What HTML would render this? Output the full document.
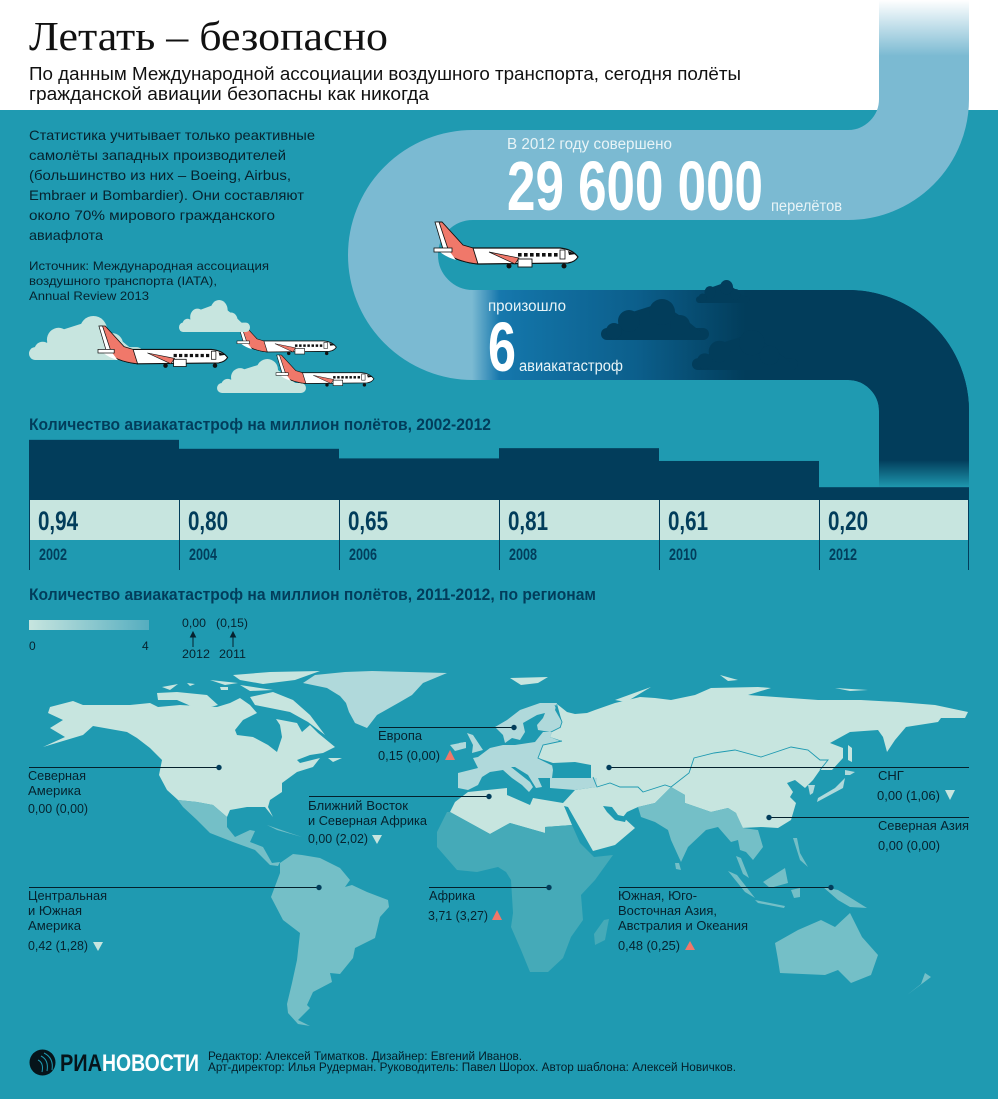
<!DOCTYPE html>
<html lang="ru">
<head>
<meta charset="utf-8">
<title>Летать – безопасно</title>
<style>
html,body{margin:0;padding:0;background:#1f9ab1}
svg{display:block}
text{font-family:"Liberation Sans","Noto Sans CJK SC",sans-serif}
.a{font-size:13px;fill:#06222e}
.l{font-size:12px;fill:#06222e}
.p{font-size:14px;fill:#06222e}
.s{font-size:12px;fill:#06222e}
.w{font-size:15.5px;fill:#e8f4f7}
.h{font-size:16.5px;font-weight:bold;fill:#023d5b}
.f{font-size:12px;fill:#031d28}
</style>
</head>
<body>
<svg id="page" xmlns="http://www.w3.org/2000/svg" width="998" height="1100" viewBox="0 0 998 1100">
<defs>
<linearGradient id="topFade" gradientUnits="userSpaceOnUse" x1="0" y1="0" x2="0" y2="56"><stop offset="0" stop-color="#fff"/><stop offset="1" stop-color="#7bbad2"/></linearGradient>
<linearGradient id="midBand" gradientUnits="userSpaceOnUse" x1="472" y1="0" x2="745" y2="0"><stop offset="0" stop-color="#7bbad2"/><stop offset=".1" stop-color="#1778ad"/><stop offset=".2" stop-color="#1272a5"/><stop offset=".6" stop-color="#0c5f8c"/><stop offset="1" stop-color="#023d5b"/></linearGradient>
<linearGradient id="botFade" gradientUnits="userSpaceOnUse" x1="0" y1="460" x2="0" y2="488"><stop offset="0" stop-color="#023d5b"/><stop offset="1" stop-color="#1f9ab1"/></linearGradient>
<linearGradient id="scale" x1="0" y1="0" x2="1" y2="0"><stop offset="0" stop-color="#c7e5df"/><stop offset="1" stop-color="#55adbf"/></linearGradient>
<symbol id="cloud" viewBox="0 0 108 41" preserveAspectRatio="none">
<rect x="0" y="29" width="108" height="12" rx="6"/>
<path d="M10,32 L28,14 L60,4 L84,20 L100,33 L100,41 L8,41 Z"/>
<circle cx="28" cy="22" r="11"/><circle cx="61" cy="13" r="13"/><circle cx="79" cy="26" r="10"/><circle cx="13" cy="32" r="8"/>
</symbol>
<g id="plane">
<path d="M39,26 L126,26 Q138,27 144,35 Q141,40 134,41 L44,42 Q24,40 6,29 Z" fill="#fff" stroke="#111" stroke-width="1.2"/>
<path d="M3,0 L8,0 L29,23 L39,26 L44,42 Q24,40 12,31 Z" fill="#f0786a" stroke="#111" stroke-width=".9"/>
<path d="M1,0 L5,0 L14,27 L9,27 Z" fill="#fff" stroke="#111" stroke-width=".8"/>
<path d="M6,30 L16,30 L22,38 Q12,35 6,30 Z" fill="#fff"/>
<rect x="0" y="26" width="18" height="4" fill="#fff" stroke="#111" stroke-width=".8"/>
<path d="M55,30 L85,36 L81,42 Z" fill="#f0786a" stroke="#111" stroke-width=".7"/>
<rect x="84" y="37" width="14" height="8" fill="#fff" stroke="#111" stroke-width=".9"/>
<g fill="#111"><rect x="84" y="31" width="3.6" height="3.6"/><rect x="90" y="31" width="3.6" height="3.6"/><rect x="96" y="31" width="3.6" height="3.6"/><rect x="102" y="31" width="3.6" height="3.6"/><rect x="108" y="31" width="3.6" height="3.6"/><rect x="114" y="31" width="3.6" height="3.6"/><rect x="120" y="31" width="3.6" height="3.6"/></g>
<rect x="126" y="28" width="5" height="9" fill="#fff" stroke="#111" stroke-width=".8"/>
<path d="M134,29 L142,32 L135,33 Z" fill="#111"/>
<circle cx="75" cy="44" r="2.5" fill="#111"/><circle cx="130" cy="44" r="2.5" fill="#111"/>
</g>
</defs>

<rect x="0" y="0" width="998" height="110" fill="#fff"/>
<rect x="0" y="110" width="998" height="989" fill="#1f9ab1"/>
<rect x="0" y="1099" width="998" height="1" fill="#fff"/>

<text x="29" y="50" style="font-family:'Liberation Serif','Noto Serif CJK SC',serif" font-size="41" fill="#111" textLength="359" lengthAdjust="spacingAndGlyphs">Летать – безопасно</text>
<text x="29" y="80" font-size="18.5" fill="#111" textLength="712" lengthAdjust="spacingAndGlyphs">По данным Международной ассоциации воздушного транспорта, сегодня полёты</text>
<text x="29" y="100" font-size="18.5" fill="#111" textLength="400" lengthAdjust="spacingAndGlyphs">гражданской авиации безопасны как никогда</text>

<g>
<path d="M924,0 V99 A76,76 0 0 1 848,175 H473 A80,80 0 0 0 473,335 H480" fill="none" stroke="#7bbad2" stroke-width="90"/>
<rect x="879" y="0" width="90" height="57" fill="url(#topFade)"/>
<path d="M472,335 H848 A76,76 0 0 1 924,411 V462" fill="none" stroke="url(#midBand)" stroke-width="90"/>
<path d="M745,335 H848 A76,76 0 0 1 924,411 V462" fill="none" stroke="#023d5b" stroke-width="90"/>
<rect x="879" y="460" width="90" height="28" fill="url(#botFade)"/>
</g>
<g fill="#023d5b">
<use href="#cloud" x="601" y="299" width="108" height="41"/>
<use href="#cloud" x="696" y="280" width="54" height="23"/>
<use href="#cloud" x="692" y="330" width="106" height="40"/>
</g>
<use href="#plane" x="434" y="222"/>

<text x="507" y="149" class="w" textLength="165" lengthAdjust="spacingAndGlyphs">В 2012 году совершено</text>
<text x="507" y="210" font-size="70" font-weight="bold" fill="#fff" textLength="256" lengthAdjust="spacingAndGlyphs">29 600 000</text>
<text x="771" y="211" class="w" textLength="71" lengthAdjust="spacingAndGlyphs">перелётов</text>
<text x="488" y="311" class="w" textLength="78" lengthAdjust="spacingAndGlyphs">произошло</text>
<text x="488" y="371" font-size="70" font-weight="bold" fill="#fff" textLength="28" lengthAdjust="spacingAndGlyphs">6</text>
<text x="519" y="371" class="w" textLength="104" lengthAdjust="spacingAndGlyphs">авиакатастроф</text>

<g>
<text x="29" y="140" class="p" textLength="286" lengthAdjust="spacingAndGlyphs">Статистика учитывает только реактивные</text>
<text x="29" y="160" class="p" textLength="257" lengthAdjust="spacingAndGlyphs">самолёты западных производителей</text>
<text x="29" y="180" class="p" textLength="262" lengthAdjust="spacingAndGlyphs">(большинство из них – Boeing, Airbus,</text>
<text x="29" y="200" class="p" textLength="275" lengthAdjust="spacingAndGlyphs">Embraer и Bombardier). Они составляют</text>
<text x="29" y="220" class="p" textLength="246" lengthAdjust="spacingAndGlyphs">около 70% мирового гражданского</text>
<text x="29" y="240" class="p" textLength="74" lengthAdjust="spacingAndGlyphs">авиафлота</text>
<text x="29" y="270" class="s" textLength="240" lengthAdjust="spacingAndGlyphs">Источник: Международная ассоциация</text>
<text x="29" y="285" class="s" textLength="188" lengthAdjust="spacingAndGlyphs">воздушного транспорта (IATA),</text>
<text x="29" y="300" class="s" textLength="120" lengthAdjust="spacingAndGlyphs">Annual Review 2013</text>
</g>

<g fill="#c7e5df">
<use href="#cloud" x="29" y="316" width="114" height="44"/>
<use href="#cloud" x="217" y="359" width="89" height="34"/>
</g>
<use href="#plane" transform="translate(237,323) scale(.69)"/>
<use href="#cloud" x="179" y="300" width="71" height="32" fill="#c7e5df"/>
<use href="#plane" transform="translate(98,326) scale(.9)"/>
<use href="#plane" transform="translate(276,355) scale(.68)"/>

<text x="29" y="430" class="h" textLength="462" lengthAdjust="spacingAndGlyphs">Количество авиакатастроф на миллион полётов, 2002-2012</text>
<g id="barChart"></g>
<text x="29" y="600" class="h" textLength="567" lengthAdjust="spacingAndGlyphs">Количество авиакатастроф на миллион полётов, 2011-2012, по регионам</text>

<g>
<rect x="29" y="620" width="120" height="10" fill="url(#scale)"/>
<text x="29" y="650" class="l">0</text>
<text x="142" y="650" class="l">4</text>
<text x="182" y="627" class="l" textLength="24" lengthAdjust="spacingAndGlyphs">0,00</text>
<text x="216" y="627" class="l" textLength="32" lengthAdjust="spacingAndGlyphs">(0,15)</text>
<path d="M193,647 V635 M190.5,637 L193,632 L195.5,637 Z M233,647 V635 M230.5,637 L233,632 L235.5,637 Z" stroke="#06222e" fill="#06222e"/>
<text x="182" y="658" class="l" textLength="28" lengthAdjust="spacingAndGlyphs">2012</text>
<text x="219" y="658" class="l" textLength="27" lengthAdjust="spacingAndGlyphs">2011</text>
</g>

<g>
<g fill="#b0d9db">
<path d="M303,683 L315,675 L345,672 L372,671 L447,673 L423,683 L412,695 L400,702 L377,715 L367,728 L355,723 L349,712 L346,703 L340,696 L327,688 Z"/>
<path d="M450,745 L465,742 L466,748 L455,751 Z"/>
</g>
<g fill="#c7e5df">
<path d="M50,707 L73,701 L83,705 L130,705 L150,703 L158,707 L180,705 L217,707 L230,703 L240,698 L250,705 L257,713 L243,720 L235,730 L237,735 L253,737 L268,745 L277,752 L282,737 L280,725 L276,719 L297,723 L302,732 L310,725 L318,733 L335,747 L323,753 L310,755 L297,760 L300,763 L320,758 L313,767 L297,772 L282,783 L282,792 L270,800 L268,807 L273,817 L265,807 L247,807 L230,810 L227,817 L213,805 L197,802 L178,800 L167,790 L159,775 L162,760 L150,748 L137,738 L127,732 L93,726 L83,735 L43,747 L65,737 L50,728 L63,720 L48,713 Z"/>
<path d="M250,697 L273,692 L293,700 L310,715 L325,735 L308,722 L290,712 L270,708 L255,705 Z"/>
<path d="M157,693 L177,692 L207,695 L218,705 L200,710 L177,700 L158,700 Z"/>
<path d="M162,687 L178,684 L170,690 Z"/>
<path d="M187,683 L195,684 L190,686 Z"/>
<path d="M220,687 L228,687 L228,690 L221,690 Z"/>
<path d="M210,680 L238,683 L225,685 Z"/>
<path d="M240,685 L273,690 L250,691 Z"/>
<path d="M233,675 L270,672 L320,671 L295,680 L263,684 L240,680 Z"/>
<path d="M328,758 L342,758 L333,762 Z"/>
</g>
<g fill="#74bfc7">
<path d="M177,799 L178,800 L197,802 L213,805 L227,817 L227,827 L235,837 L250,830 L255,831 L250,842 L263,847 L272,863 L280,862 L278,866 L270,865 L255,850 L233,842 L210,833 L197,820 L183,807 Z"/>
<path d="M280,863 L293,854 L302,855 L320,858 L340,868 L350,880 L345,887 L352,885 L367,892 L388,900 L389,907 L380,917 L375,938 L355,948 L353,958 L340,974 L330,973 L332,982 L313,992 L307,1005 L310,1008 L298,1020 L310,1026 L298,1024 L288,1013 L287,1004 L292,983 L297,960 L300,933 L283,920 L271,897 L280,873 Z"/>
<path d="M267,825 L290,833 L302,837 L277,830 Z"/>
</g>
<g fill="#c7e5df">
<path d="M557,704 L567,712 L575,714 L587,713 L595,710 L615,703 L640,697 L655,698 L671,700 L695,695 L711,688 L758,687 L771,688 L748,695 L818,700 L861,700 L898,702 L935,705 L968,712 L965,718 L941,718 L938,722 L906,727 L895,740 L887,752 L883,737 L878,730 L850,732 L830,743 L843,748 L843,758 L832,770 L820,770 L813,780 L805,788 L795,780 L787,783 L793,792 L790,797 L796,803 L791,820 L778,828 L761,827 L741,828 L736,813 L728,808 L711,812 L685,803 L685,795 L671,787 L655,803 L638,807 L627,812 L623,817 L635,828 L615,845 L593,851 L568,807 L564,806 L572,825 L545,827 L545,833 L510,823 L490,834 L450,812 L455,802 L468,792 L507,788 L507,795 L530,805 L533,798 L563,803 L575,790 L596,787 L591,778 L591,765 L575,762 L553,763 L538,758 L543,745 L562,741 L550,737 L552,732 L560,728 L562,722 Z"/>
<path d="M615,700 L651,687 L626,702 Z"/>
<path d="M510,678 L548,677 L538,683 L521,685 Z"/>
<path d="M720,675 L738,680 L728,681 Z"/>
<path d="M835,688 L868,690 L850,691 Z"/>
<path d="M848,745 L852,748 L852,762 L848,760 Z"/>
</g>
<g fill="#b0d9db">
<path d="M557,703 L540,703 L520,710 L507,720 L495,727 L503,735 L505,743 L512,738 L520,740 L525,732 L523,723 L537,715 L545,713 L543,718 L537,725 L538,730 L550,732 L560,727 L562,722 L555,710 Z"/>
<path d="M467,733 L473,735 L483,750 L472,753 L473,745 Z"/>
<path d="M459,743 L466,742 L466,748 L459,749 Z"/>
<path d="M478,757 L490,748 L503,745 L515,745 L535,742 L543,732 L552,732 L550,737 L560,741 L543,745 L538,758 L552,765 L553,770 L552,778 L538,778 L542,787 L536,788 L528,775 L515,767 L511,767 L530,782 L533,787 L529,792 L522,785 L512,778 L503,770 L490,772 L482,777 L478,785 L468,790 L458,788 L458,773 L478,768 L473,758 Z"/>
<path d="M550,778 L597,778 L596,787 L575,790 L550,788 Z"/>
</g>
<g fill="#45aab8">
<path d="M447,812 L450,812 L490,834 L510,823 L545,833 L545,827 L572,825 L580,843 L594,857 L613,855 L595,880 L581,895 L583,920 L571,937 L563,958 L548,972 L530,972 L521,950 L511,927 L513,913 L511,880 L506,872 L498,867 L477,872 L457,870 L437,847 L437,832 Z"/>
<path d="M604,920 L609,919 L605,940 L595,945 L594,934 Z"/>
</g>
<g fill="#74bfc7">
<path d="M638,807 L655,803 L671,787 L685,795 L685,803 L711,812 L728,808 L736,813 L743,828 L758,830 L763,847 L753,860 L746,852 L740,850 L738,840 L731,842 L718,827 L706,830 L688,847 L681,862 L671,840 L668,830 L655,822 L641,817 Z"/>
<path d="M736,856 L741,858 L749,878 L743,874 Z"/>
<path d="M728,871 L737,875 L755,898 L745,892 Z"/>
<path d="M763,882 L785,868 L788,883 L770,888 Z"/>
<path d="M755,900 L785,906 L784,908 L758,903 Z"/>
<path d="M791,890 L800,888 L800,897 L794,898 Z"/>
<path d="M823,887 L838,890 L867,908 L850,907 L838,900 Z"/>
<path d="M793,838 L797,838 L800,853 L808,867 L800,860 Z"/>
<path d="M675,863 L679,863 L681,870 L676,869 Z"/>
<path d="M775,943 L798,930 L821,920 L835,927 L850,913 L862,937 L878,955 L871,975 L851,983 L838,970 L825,975 L780,973 L778,960 Z"/>
<path d="M907,995 L931,977 L925,973 L921,984 Z"/>
<g fill="#b0d9db">
<path d="M808,785 L815,785 L813,793 L810,795 Z"/>
<path d="M845,770 L855,772 L850,775 L845,775 Z"/>
<path d="M845,778 L843,788 L817,802 L818,798 L835,788 Z"/>
</g>
</g>
<g fill="#1f9ab1">
<path d="M553,770 L555,765 L572,764 L567,770 L583,772 L590,777 L573,777 L553,777 Z"/>
<path d="M603,806 L612,807 L618,815 L627,817 L625,822 L615,820 L607,812 Z"/>
</g>
<path d="M555,705 L562,722 L560,728 M562,741 L543,745 L538,758 L552,765 M593,777 L597,787 L610,783 L620,787 L638,787 L643,792 L665,785 L671,787 L689,773 L694,758 L714,753 L735,750 L761,757 L791,747 L808,750 L820,760 L828,760 L820,770" fill="none" stroke="#1f9ab1" stroke-width=".9"/>
</g>

<g stroke-width="1">
<g>
<line x1="29" x2="219" y1="767.5" y2="767.5" stroke="#04202c"/>
<circle cx="219" cy="767.5" r="2.7" fill="#023d5b"/>
<text x="28" y="780" class="a" textLength="58" lengthAdjust="spacingAndGlyphs">Северная</text>
<text x="28" y="795" class="a" textLength="53" lengthAdjust="spacingAndGlyphs">Америка</text>
<text x="28" y="813" class="a" textLength="60" lengthAdjust="spacingAndGlyphs">0,00 (0,00)</text>
</g>
<g>
<line x1="379" x2="514" y1="727.5" y2="727.5" stroke="#04202c"/>
<circle cx="514" cy="727.5" r="2.7" fill="#023d5b"/>
<text x="378" y="740" class="a" textLength="44" lengthAdjust="spacingAndGlyphs">Европа</text>
<text x="378" y="760" class="a" textLength="62" lengthAdjust="spacingAndGlyphs">0,15  (0,00)</text>
<path d="M445,760 L450,750 L455,760 Z" fill="#f0786a"/>
</g>
<g>
<line x1="309" x2="489" y1="796.5" y2="796.5" stroke="#04202c"/>
<circle cx="489" cy="796.5" r="2.7" fill="#023d5b"/>
<text x="308" y="810" class="a" textLength="100" lengthAdjust="spacingAndGlyphs">Ближний Восток</text>
<text x="308" y="825" class="a" textLength="119" lengthAdjust="spacingAndGlyphs">и Северная Африка</text>
<text x="308" y="843" class="a" textLength="60" lengthAdjust="spacingAndGlyphs">0,00 (2,02)</text>
<path d="M372,835 L382,835 L377,844 Z" fill="#c7e5df"/>
</g>
<g>
<line x1="29" x2="319" y1="887.5" y2="887.5" stroke="#04202c"/>
<circle cx="319" cy="887.5" r="2.7" fill="#023d5b"/>
<text x="28" y="900" class="a" textLength="79" lengthAdjust="spacingAndGlyphs">Центральная</text>
<text x="28" y="915" class="a" textLength="54" lengthAdjust="spacingAndGlyphs">и Южная</text>
<text x="28" y="930" class="a" textLength="53" lengthAdjust="spacingAndGlyphs">Америка</text>
<text x="28" y="950" class="a" textLength="60" lengthAdjust="spacingAndGlyphs">0,42 (1,28)</text>
<path d="M93,942 L103,942 L98,951 Z" fill="#c7e5df"/>
</g>
<g>
<line x1="429" x2="549" y1="887.5" y2="887.5" stroke="#04202c"/>
<circle cx="549" cy="887.5" r="2.7" fill="#023d5b"/>
<text x="429" y="900" class="a" textLength="46" lengthAdjust="spacingAndGlyphs">Африка</text>
<text x="428" y="920" class="a" textLength="60" lengthAdjust="spacingAndGlyphs">3,71 (3,27)</text>
<path d="M492,920 L497,910 L502,920 Z" fill="#f0786a"/>
</g>
<g>
<line x1="619" x2="831" y1="887.5" y2="887.5" stroke="#04202c"/>
<circle cx="831" cy="887.5" r="2.7" fill="#023d5b"/>
<text x="618" y="900" class="a" textLength="79" lengthAdjust="spacingAndGlyphs">Южная, Юго-</text>
<text x="618" y="915" class="a" textLength="99" lengthAdjust="spacingAndGlyphs">Восточная Азия,</text>
<text x="618" y="930" class="a" textLength="130" lengthAdjust="spacingAndGlyphs">Австралия и Океания</text>
<text x="618" y="950" class="a" textLength="62" lengthAdjust="spacingAndGlyphs">0,48  (0,25)</text>
<path d="M685,950 L690,941 L695,950 Z" fill="#f0786a"/>
</g>
<g>
<line x1="609" x2="969" y1="767.5" y2="767.5" stroke="#04202c"/>
<circle cx="609" cy="767.5" r="2.7" fill="#023d5b"/>
<text x="878" y="780" class="a">СНГ</text>
<text x="877" y="800" class="a" textLength="63" lengthAdjust="spacingAndGlyphs">0,00  (1,06)</text>
<path d="M945,790 L955,790 L950,800 Z" fill="#c7e5df"/>
</g>
<g>
<line x1="769" x2="969" y1="817.5" y2="817.5" stroke="#04202c"/>
<circle cx="769" cy="817.5" r="2.7" fill="#023d5b"/>
<text x="878" y="830" class="a" textLength="91" lengthAdjust="spacingAndGlyphs">Северная Азия</text>
<text x="878" y="850" class="a" textLength="62" lengthAdjust="spacingAndGlyphs">0,00  (0,00)</text>
</g>
</g>

<g>
<circle cx="42.5" cy="1062.5" r="13" fill="#06141a"/>
<path d="M44,1053 Q54,1058 52,1070 M41,1056 Q49,1060 47,1071 M38,1060 Q44,1063 42,1072" fill="none" stroke="#1f9ab1" stroke-width="1"/>
<text x="60" y="1071" font-size="24" font-weight="bold" fill="#06141a" textLength="42" lengthAdjust="spacingAndGlyphs">РИА</text>
<text x="102" y="1071" font-size="24" font-weight="bold" fill="#fff" textLength="97" lengthAdjust="spacingAndGlyphs">НОВОСТИ</text>
</g>
<text x="208" y="1060" class="f" textLength="314" lengthAdjust="spacingAndGlyphs">Редактор: Алексей Тиматков. Дизайнер: Евгений Иванов.</text>
<text x="208" y="1071" class="f" textLength="528" lengthAdjust="spacingAndGlyphs">Арт-директор: Илья Рудерман. Руководитель: Павел Шорох. Автор шаблона: Алексей Новичков.</text>
</svg>

<script>
const years = [2002, 2004, 2006, 2008, 2010, 2012];
const crashRates = [0.94, 0.80, 0.65, 0.81, 0.61, 0.20];

const NS = 'http://www.w3.org/2000/svg';
const chart = document.getElementById('barChart');
const baseline = 500;
const pxPerUnit = 64;
function edgeX(i) { return Math.max(29, Math.min(969, 19 + 160 * i)); }
function barTop(v) { return baseline - v * pxPerUnit; }

const band = document.createElementNS(NS, 'rect');
band.setAttribute('x', 29);
band.setAttribute('y', baseline);
band.setAttribute('width', 940);
band.setAttribute('height', 40);
band.setAttribute('fill', '#c7e5df');


chart.appendChild(band);

crashRates.forEach(function (v, i) {
  const x0 = edgeX(i), x1 = edgeX(i + 1);
  const bar = document.createElementNS(NS, 'rect');
  bar.setAttribute('x', x0);
  bar.setAttribute('y', barTop(v));
  bar.setAttribute('width', x1 - x0);
  bar.setAttribute('height', baseline - barTop(v));
  bar.setAttribute('fill', '#023d5b');
  
  
  chart.appendChild(bar);

  const tick = document.createElementNS(NS, 'line');
  tick.setAttribute('x1', x0 + 0.5);
  tick.setAttribute('x2', x0 + 0.5);
  tick.setAttribute('y1', baseline);
  tick.setAttribute('y2', 570);
  tick.setAttribute('stroke', '#023d5b');
  
  
  chart.appendChild(tick);

  const val = document.createElementNS(NS, 'text');
  val.setAttribute('x', x0 + 9);
  val.setAttribute('y', 530);
  val.setAttribute('font-size', '27');
  val.setAttribute('font-weight', 'bold');
  val.setAttribute('fill', '#023d5b');
  val.setAttribute('textLength', '40');
  val.setAttribute('lengthAdjust', 'spacingAndGlyphs');
  val.textContent = v.toFixed(2).replace('.', ',');
  
  
  chart.appendChild(val);

  const yr = document.createElementNS(NS, 'text');
  yr.setAttribute('x', x0 + 10);
  yr.setAttribute('y', 560);
  yr.setAttribute('font-size', '17');
  yr.setAttribute('font-weight', 'bold');
  yr.setAttribute('fill', '#023d5b');
  yr.setAttribute('textLength', '28');
  yr.setAttribute('lengthAdjust', 'spacingAndGlyphs');
  yr.textContent = years[i];
  
  
  chart.appendChild(yr);
});

const lastTick = document.createElementNS(NS, 'line');
lastTick.setAttribute('x1', 968.5);
lastTick.setAttribute('x2', 968.5);
lastTick.setAttribute('y1', baseline);
lastTick.setAttribute('y2', 570);
lastTick.setAttribute('stroke', '#023d5b');


chart.appendChild(lastTick);
</script>
</body>
</html>
